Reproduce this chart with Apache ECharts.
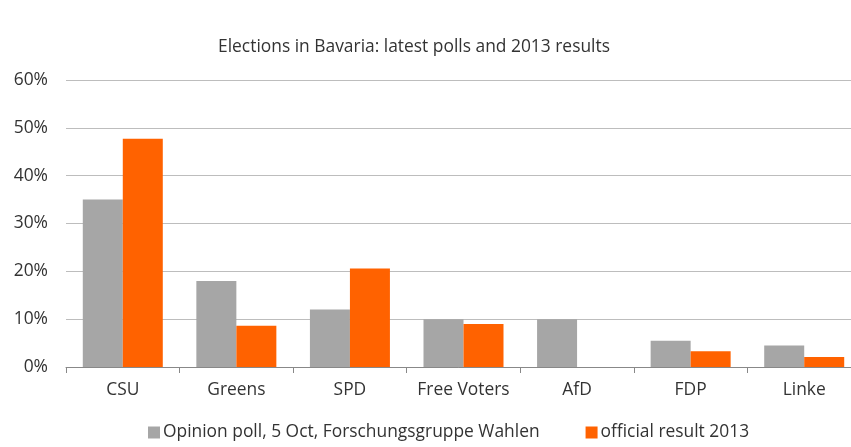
<!DOCTYPE html>
<html>
<head>
<meta charset="utf-8">
<script src="https://cdn.jsdelivr.net/npm/echarts@6/dist/echarts.min.js"></script>
<style>html,body{margin:0;padding:0;background:#fff}#c{width:851px;height:447px}</style>
</head>
<body>
<div id="c"></div>
<script>
const categories = ['CSU', 'Greens', 'SPD', 'Free Voters', 'AfD', 'FDP', 'Linke'];
const pollValues = [35, 18, 12, 10, 10, 5.5, 4.5];
const result2013Values = [47.7, 8.6, 20.6, 9.0, null, 3.3, 2.1];
const seriesNames = ['Opinion poll, 5 Oct, Forschungsgruppe Wahlen', 'official result 2013'];
const titleText = 'Elections in Bavaria: latest polls and 2013 results';

const FONT = "'Open Sans', Lato, sans-serif";
const FS = 17.4;
const chart = echarts.init(document.getElementById('c'), null, {renderer: 'canvas'});
chart.setOption({
  animation: false,
  backgroundColor: '#ffffff',
  textStyle: {fontFamily: FONT},
  title: {
    text: titleText, left: 409, top: 34, textAlign: 'center',
    textStyle: {fontFamily: FONT, fontSize: FS, fontWeight: 'normal', color: '#333'}
  },
  legend: {
    bottom: 1, left: 143, itemWidth: 12, itemHeight: 12, itemGap: 46,
    icon: 'rect',
    textStyle: {fontFamily: FONT, fontSize: FS, color: '#333', padding: [0, 0, 0, -2]},
    data: seriesNames
  },
  grid: {left: 66, width: 795, top: 80, bottom: 80, containLabel: false, outerBoundsMode: 'none'},
  xAxis: {
    type: 'category', data: categories, boundaryGap: true,
    axisLine: {lineStyle: {color: '#888', width: 1}},
    axisTick: {show: true, interval: 0, length: 6, lineStyle: {color: '#888'}},
    axisLabel: {interval: 0, hideOverlap: false, fontFamily: FONT, fontSize: FS, color: '#333', margin: 15}
  },
  yAxis: {
    type: 'value', min: 0, max: 60, interval: 10,
    axisLine: {show: false}, axisTick: {show: false},
    axisLabel: {fontFamily: FONT, fontSize: FS, color: '#333', margin: 18, formatter: '{value}%'},
    splitLine: {lineStyle: {color: '#bdbdbd', width: 1}}
  },
  series: [
    {name: seriesNames[0], type: 'bar', data: pollValues, barWidth: 40, barGap: '0%',
     itemStyle: {color: '#a6a6a6'}},
    {name: seriesNames[1], type: 'bar', data: result2013Values, barWidth: 40, barGap: '0%',
     itemStyle: {color: '#ff6200'}}
  ]
});
</script>
</body>
</html>
